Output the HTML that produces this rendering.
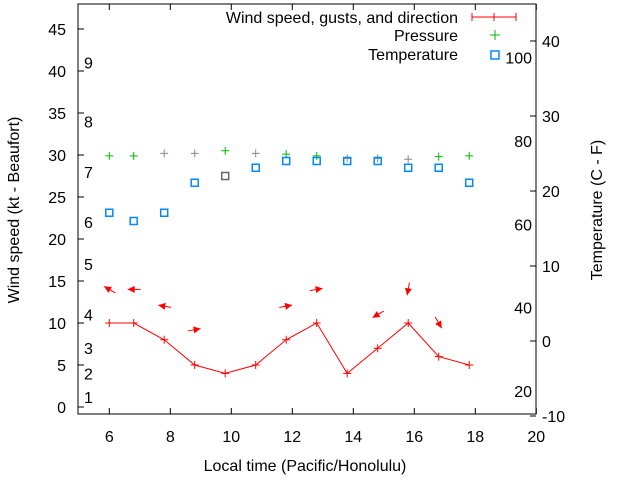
<!DOCTYPE html>
<html><head><meta charset="utf-8"><style>
body{margin:0;background:#fff}
svg{display:block;font-family:"Liberation Sans",sans-serif;font-size:16px}
</style></head><body>
<svg id="c" width="640" height="480">
<rect x="78" y="4" width="458" height="410" fill="none" stroke="#000" stroke-width="1"/>
<g id="axes"></g>
<g id="marks"></g>
<text x="15" y="210" transform="rotate(-90 15 210)" text-anchor="middle" dominant-baseline="middle">Wind speed (kt - Beaufort)</text>
<text x="598" y="210" transform="rotate(-90 598 210)" text-anchor="middle" dominant-baseline="middle">Temperature (C - F)</text>
<text x="305" y="471" text-anchor="middle">Local time (Pacific/Honolulu)</text>
<g>
<text x="458" y="23" text-anchor="end">Wind speed, gusts, and direction</text>
<text x="458" y="41" text-anchor="end">Pressure</text>
<text x="458" y="60" text-anchor="end">Temperature</text>
<path d="M472 17H516M472 13V21M494 13V21M516 13V21" stroke="#f00" fill="none"/>
<path d="M490 35H500M495 30V40" stroke="#0b0"/>
<rect x="491" y="51" width="8" height="8" fill="none" stroke="#08f" stroke-width="1.5"/>
</g>
</svg>
<script>
const times=[6.0,6.8,7.8,8.8,9.8,10.8,11.8,12.8,13.8,14.8,15.8,16.8,17.8];
const wind=[10,10,8,5,4,5,8,10,4,7,10,6,5];
const pressure=[29.9,29.9,30.2,30.2,30.5,30.2,30.1,29.9,29.6,29.6,29.5,29.8,29.9];
const tempC=[17.1,16,17.1,21.1,22,23.1,24,24,24,24,23.1,23.1,21.1];
const gust=[14,14,12,9.2,null,null,12,14,null,11,14,10,null];
const dirDeg=[-150,180,-170,-10,null,null,-10,-10,null,150,100,60,null];
const xTicks=[6,8,10,12,14,16,18,20];
const yTicks=[0,5,10,15,20,25,30,35,40,45];
const y2Ticks=[-10,0,10,20,30,40];
const fLabels=[20,40,60,80,100];
const bft=[1,2,3,4,5,6,7,8,9];
const bftY=[1.2,4,7,11,17,22,28,34,41];
const X=t=>109.3+(t-6)*30.5, Y=v=>407-8.4*v, Y2=c=>341-7.5*c, F2C=f=>(f-32)*5/9;
const ns="http://www.w3.org/2000/svg";
function mk(tag,a,p,txt){const e=document.createElementNS(ns,tag);for(const k in a)e.setAttribute(k,a[k]);if(txt!==undefined)e.textContent=txt;p.appendChild(e);return e;}
const ax=document.getElementById('axes'),mg=document.getElementById('marks');
xTicks.forEach(t=>{const x=X(t);mk('path',{d:`M${x} 414v-6M${x} 4v6`,stroke:'#000'},ax);
 const l=mk('text',{x:x,y:442,'text-anchor':'middle'},ax,t);
 
 });
yTicks.forEach(v=>{const y=Y(v);mk('path',{d:`M78 ${y}h6`,stroke:'#000'},ax);
 const l=mk('text',{x:66,y:y+6,'text-anchor':'end'},ax,v);
 
 });
y2Ticks.forEach(c=>{const y=Y2(c);mk('path',{d:`M536 ${y}h-6`,stroke:'#000'},ax);
 const l=mk('text',{x:542,y:y+6},ax,c);
 
 });
fLabels.forEach(f=>{const l=mk('text',{x:532,y:Y2(F2C(f))+6,'text-anchor':'end'},ax,f);
 
 });
bft.forEach((b,i)=>{const l=mk('text',{x:84,y:Y(bftY[i])+6},ax,b);
 
 });
const line=mk('polyline',{points:times.map((t,i)=>X(t)+','+Y(wind[i])).join(' '),fill:'none',stroke:'#f00'},mg);


times.forEach((t,i)=>{const x=X(t);
 const w=mk('path',{d:`M${x-4} ${Y(wind[i])}h8M${x} ${Y(wind[i])-4}v8`,stroke:'#f00'},mg);
 
 
 const gray=[2,3,5,8,9,10].includes(i);
 const p=mk('path',{d:`M${x-4} ${Y(pressure[i])}h8M${x} ${Y(pressure[i])-4}v8`,stroke:gray?'#888':'#0b0'},mg);
 
 
 const s=mk('rect',{x:x-3.5,y:Y2(tempC[i])-3.5,width:7,height:7,fill:'none',stroke:i==4?'#666':'#08f','stroke-width':1.5},mg);
 
 
 if(gust[i]!==null){const a=dirDeg[i]*Math.PI/180,cx=x,cy=Y(gust[i]),dx=Math.cos(a),dy=Math.sin(a);
  const tx=cx+dx*6,ty=cy+dy*6,bx=cx-dx*7,by=cy-dy*7;
  const g=mk('g',{},mg);
  
  
  mk('path',{d:`M${bx} ${by}L${tx} ${ty}`,stroke:'#f00'},g);
  const px=-dy,py=dx;
  mk('path',{d:`M${tx} ${ty}L${tx-dx*7+px*3.5} ${ty-dy*7+py*3.5}L${tx-dx*7-px*3.5} ${ty-dy*7-py*3.5}Z`,fill:'#f00'},g);}
});
</script>
</body></html>
